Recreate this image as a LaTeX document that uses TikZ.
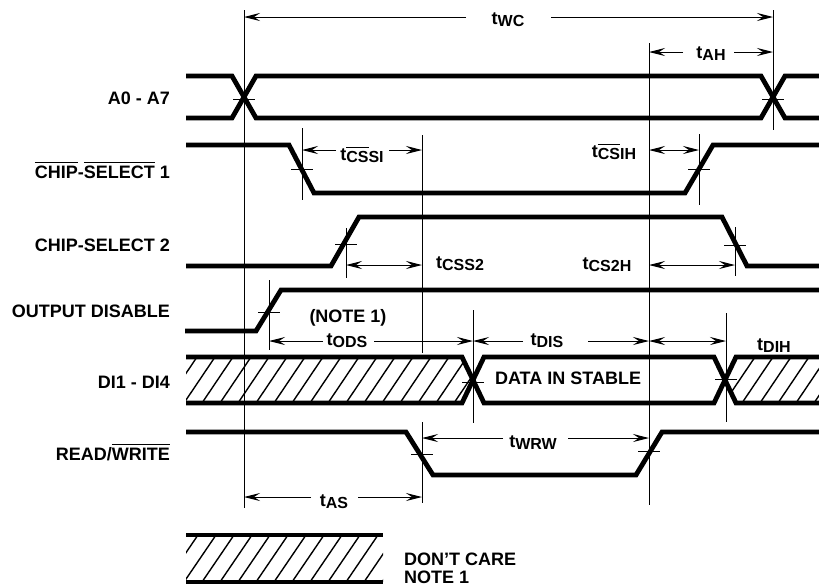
\documentclass[tikz,border=0pt]{standalone}
\usepackage{fontspec}
\setmainfont{Liberation Sans}
\usetikzlibrary{arrows.meta}
\newcommand\ovl[1]{\leavevmode\vbox{\hrule height 0.9pt\kern 2.5pt\hbox{#1}}}
\newcommand\ovs[1]{\leavevmode\vbox{\hrule height 0.9pt\kern 3.5pt\hbox{#1}}}
\newcommand\tlab[1]{t\raisebox{-2.5pt}{\fontsize{16}{16}\selectfont #1}}
\begin{document}
\begin{tikzpicture}[x=1pt,y=-1pt,
  sig/.style={line width=4.8pt,line join=miter},
  vline/.style={line width=1pt},
  hatch/.style={line width=1.4pt},
  tip/.tip={Stealth[length=16pt,width=8pt,inset=6pt]},
  arr/.style={line width=1pt,-tip},
  darr/.style={line width=1pt,tip-tip},
  lbl/.style={font=\fontsize{18}{18}\selectfont\bfseries,inner sep=0pt},
  sname/.style={lbl,anchor=base east},
  tname/.style={lbl,anchor=base}]
\useasboundingbox (0,0) rectangle (819,587);

% ---- hatching (don't care regions)
\begin{scope}
  \clip (186,357) -- (462,357) -- (473,380) -- (462,403) -- (186,403) -- cycle;
  \foreach \x in {166,184,...,500} \draw[hatch] (\x,403) -- ++(31,-46);
\end{scope}
\begin{scope}
  \clip (736,357) -- (819,357) -- (819,403) -- (736,403) -- (725,380) -- cycle;
  \foreach \x in {688,706,...,840} \draw[hatch] (\x,403) -- ++(31,-46);
\end{scope}
\begin{scope}
  \clip (186,535) rectangle (383,582);
  \foreach \x in {166,184,...,400} \draw[hatch] (\x,582) -- ++(32,-47);
\end{scope}

% ---- signals
\draw[sig] (186,76) -- (232,76) -- (256,118) -- (761,118) -- (785,76) -- (819,76);
\draw[sig] (186,118) -- (232,118) -- (256,76) -- (761,76) -- (785,118) -- (819,118);
\draw[sig] (186,145) -- (289,145) -- (314,193) -- (685,193) -- (713,145) -- (819,145);
\draw[sig] (186,266) -- (331,266) -- (359,217) -- (722,217) -- (747,266) -- (819,266);
\draw[sig] (185,331) -- (256,331) -- (281,290) -- (819,290);
\draw[sig] (186,357) -- (462,357) -- (484,403) -- (714,403) -- (736,357) -- (819,357);
\draw[sig] (186,403) -- (462,403) -- (484,357) -- (714,357) -- (736,403) -- (819,403);
\draw[sig] (186,432) -- (406,432) -- (433,475) -- (636,475) -- (662,432) -- (819,432);
% legend bars
\draw[sig] (186,535) -- (383,535);
\draw[sig] (186,582) -- (383,582);

% ---- reference verticals
\draw[vline] (244,10) -- (244,508);
\draw[vline] (773,10) -- (773,130);
\draw[vline] (649,43) -- (649,505);
\draw[vline] (422,135) -- (422,353);
\draw[vline] (302,128) -- (302,200);
\draw[vline] (699,134) -- (699,205);
\draw[vline] (346,228) -- (346,278);
\draw[vline] (735,227) -- (735,276);
\draw[vline] (269,280) -- (269,350);
\draw[vline] (473,310) -- (473,423);
\draw[vline] (726,313) -- (726,422);
\draw[vline] (422,422) -- (422,503);

% ---- crossing ticks
\foreach \p in {(244,99),(773,99),(302,169),(699,169),(346,244),(735,245),
                (269,312),(473,382),(726,379),(422,454),(649,451)}
  \draw[vline] \p ++(-11,0) -- ++(22,0);

% ---- signal names
\node[sname] (na) at (170,104) {A0 - A7};
\node[sname] (ncs1) at (170,178) {\ovl{CHIP}-\ovl{SELECT} 1};
\node[sname] (ncs2) at (170,251) {CHIP-SELECT 2};
\node[sname] (nod) at (170,317) {OUTPUT DISABLE};
\node[sname] (ndi) at (170,388) {DI1 - DI4};
\node[sname] (nrw) at (170,460) {READ/\ovl{WRITE}};

% ---- timing labels and arrows
\node[tname] (twc) at (508,24) {\tlab{WC}};
\draw[arr] (466,17) -- (244,17);
\draw[arr] (551,17) -- (773,17);

\node[tname] (tah) at (711,58) {\tlab{AH}};
\draw[arr] (683,52) -- (649,52);
\draw[arr] (734,52) -- (773,52);

\node[tname] (tcss1) at (362,160) {\tlab{\ovs{CS}SI}};
\draw[arr] (336,150) -- (302,150);
\draw[arr] (389,150) -- (422,150);

\node[tname] (tcs1h) at (614,157) {\tlab{\ovs{CS}IH}};
\draw[darr] (649,150) -- (699,150);

\node[tname] (tcss2) at (460,268) {\tlab{CSS2}};
\draw[darr] (346,265) -- (422,265);

\node[tname] (tcs2h) at (607,269) {\tlab{CS2H}};
\draw[darr] (649,265) -- (735,265);

\node[tname] (note) at (348,322) {(NOTE 1)};
\node[tname] (tods) at (347,345) {\tlab{ODS}};
\draw[arr] (323,341) -- (269,341);
\draw[arr] (374,341) -- (473,341);

\node[tname] (tdis) at (547,345) {\tlab{DIS}};
\draw[arr] (523,341) -- (473,341);
\draw[arr] (588,341) -- (649,341);

\draw[darr] (649,341) -- (726,341);
\node[tname] (tdih) at (774,350) {\tlab{DIH}};

\node[tname] (dstab) at (568,384) {DATA IN STABLE};

\node[tname] (twrw) at (533,447) {\tlab{WRW}};
\draw[arr] (503,438) -- (422,438);
\draw[arr] (568,438) -- (649,438);

\node[tname] (tas) at (334,506) {\tlab{AS}};
\draw[arr] (311,497) -- (244,497);
\draw[arr] (358,497) -- (422,497);

% ---- legend text
\node[lbl,anchor=base west] (dc) at (404,565) {DON’T CARE};
\node[lbl,anchor=base west] (n1) at (404,583) {NOTE 1};
\end{tikzpicture}
\end{document}
